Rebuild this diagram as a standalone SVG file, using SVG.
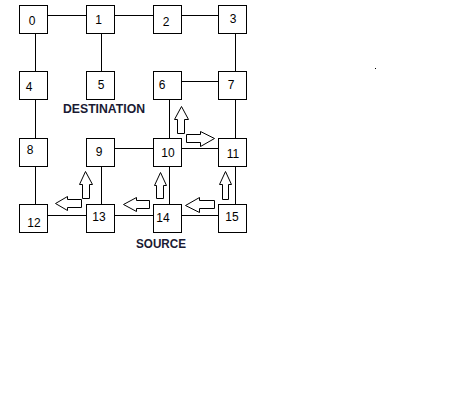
<svg xmlns="http://www.w3.org/2000/svg" width="466" height="400" viewBox="0 0 466 400">
<style>
.box{fill:#fff;stroke:#000;stroke-width:1}
.lbl{font-family:"Liberation Sans",Arial,sans-serif;font-size:12px;fill:#000;text-anchor:middle}
.cap{font-family:"Liberation Sans",Arial,sans-serif;font-size:12px;font-weight:bold;fill:#1a1a33}
.ln{stroke:#000;stroke-width:1;fill:none}
.arr{fill:#fff;stroke:#000;stroke-width:1;stroke-linejoin:miter}
</style>
<rect width="466" height="400" fill="#fff"/>
<g id="connectors">
<path class="ln" d="M47.5 15.5H86.5M114.5 15.5H153.5M181.5 15.5H218.5M35.5 33.5V71.5M101.5 33.5V71.5M235.5 33.5V71.5M181.5 81.5H218.5M35.5 99.5V138.5M169.5 99.5V138.5M235.5 99.5V138.5M114.5 148.5H153.5M181.5 148.5H218.5M35.5 166.5V204.5M101.5 166.5V204.5M169.5 166.5V204.5M235.5 166.5V204.5M47.5 215.5H86.5M114.5 215.5H153.5M181.5 215.5H218.5"/>
</g>
<g id="node0"><rect class="box" x="19.5" y="5.5" width="28" height="28"/><text class="lbl" x="32" y="25">0</text></g>
<g id="node1"><rect class="box" x="86.5" y="5.5" width="28" height="28"/><text class="lbl" x="98.5" y="24">1</text></g>
<g id="node2"><rect class="box" x="153.5" y="5.5" width="28" height="28"/><text class="lbl" x="166" y="26">2</text></g>
<g id="node3"><rect class="box" x="218.5" y="5.5" width="28" height="28"/><text class="lbl" x="233" y="23">3</text></g>
<g id="node4"><rect class="box" x="19.5" y="71.5" width="28" height="28"/><text class="lbl" x="29" y="91">4</text></g>
<g id="node5"><rect class="box" x="86.5" y="71.5" width="28" height="28"/><text class="lbl" x="101" y="89">5</text></g>
<g id="node6"><rect class="box" x="153.5" y="71.5" width="28" height="28"/><text class="lbl" x="162" y="89">6</text></g>
<g id="node7"><rect class="box" x="218.5" y="71.5" width="28" height="28"/><text class="lbl" x="231" y="89">7</text></g>
<g id="node8"><rect class="box" x="19.5" y="138.5" width="28" height="28"/><text class="lbl" x="30" y="154">8</text></g>
<g id="node9"><rect class="box" x="86.5" y="138.5" width="28" height="28"/><text class="lbl" x="99" y="156">9</text></g>
<g id="node10"><rect class="box" x="153.5" y="138.5" width="28" height="28"/><text class="lbl" x="168" y="157">10</text></g>
<g id="node11"><rect class="box" x="218.5" y="138.5" width="28" height="28"/><text class="lbl" x="233" y="158">11</text></g>
<g id="node12"><rect class="box" x="19.5" y="204.5" width="28" height="28"/><text class="lbl" x="34" y="227">12</text></g>
<g id="node13"><rect class="box" x="86.5" y="204.5" width="28" height="28"/><text class="lbl" x="99" y="221">13</text></g>
<g id="node14"><rect class="box" x="153.5" y="204.5" width="28" height="28"/><text class="lbl" x="163" y="222">14</text></g>
<g id="node15"><rect class="box" x="218.5" y="204.5" width="28" height="28"/><text class="lbl" x="232" y="221">15</text></g>
<g id="arrows">
<polygon class="arr" points="181.5,106.5 188.5,119.5 184.5,119.5 184.5,133.5 177.5,133.5 177.5,119.5 174.5,119.5"/>
<polygon class="arr" points="214.5,138.5 200.5,146.5 200.5,142.5 186.5,142.5 186.5,134.5 200.5,134.5 200.5,131.5"/>
<polygon class="arr" points="85.5,171.5 92.5,184.5 89.5,184.5 89.5,198.5 82.5,198.5 82.5,184.5 79.5,184.5"/>
<polygon class="arr" points="55.5,203.5 67.5,196.5 67.5,199.5 81.5,199.5 81.5,207.5 67.5,207.5 67.5,210.5"/>
<polygon class="arr" points="123.5,204.5 136.5,197.5 136.5,200.5 149.5,200.5 149.5,208.5 136.5,208.5 136.5,211.5"/>
<polygon class="arr" points="160.5,172.5 166.5,185.5 163.5,185.5 163.5,198.5 156.5,198.5 156.5,185.5 154.5,185.5"/>
<polygon class="arr" points="185.5,205.5 199.5,197.5 199.5,200.5 214.5,200.5 214.5,208.5 199.5,208.5 199.5,212.5"/>
<polygon class="arr" points="225.5,171.5 231.5,184.5 228.5,184.5 228.5,199.5 222.5,199.5 222.5,184.5 219.5,184.5"/>
</g>
<text class="cap" x="63" y="113" textLength="82" lengthAdjust="spacingAndGlyphs">DESTINATION</text>
<text class="cap" x="136" y="247.5" textLength="50" lengthAdjust="spacingAndGlyphs">SOURCE</text>
<rect x="375" y="68" width="1" height="1" fill="#000"/>
</svg>
